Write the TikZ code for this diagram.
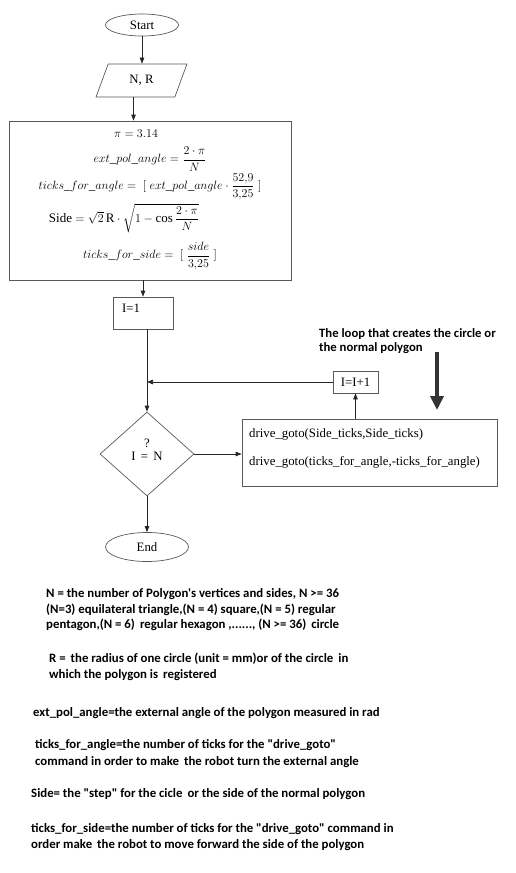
\documentclass[tikz,border=0pt]{standalone}
\usepackage{amsmath}
\usepackage{fontspec}
\setmainfont{Liberation Serif}
\newfontfamily\notefont{Carlito}
\usetikzlibrary{shapes.geometric,arrows.meta,calc}
\begin{document}
\begin{tikzpicture}[x=1pt,y=-1pt,
  box/.style={draw=black!65,line width=0.7pt,inner sep=0pt},
  arr/.style={draw=black!85,line width=0.7pt,-{Triangle[length=6pt,width=4.5pt]}},
  ftxt/.style={font=\fontsize{12.8}{14}\selectfont,inner sep=0pt},
  mtxt/.style={font=\fontsize{13}{14}\selectfont,inner sep=0pt},
  note/.style={font=\notefont\bfseries\fontsize{12.8}{15}\selectfont,inner sep=0pt,anchor=base west},
  lnote/.style={font=\notefont\bfseries\fontsize{12.7}{15}\selectfont,inner sep=0pt,anchor=base west},
  bigarr/.style={draw=black!80,line width=3.5pt,-{Triangle[length=14pt,width=13pt]}}]
\useasboundingbox (0,0) rectangle (515,873);

% flowchart shapes
\node[box,ellipse,minimum width=73pt,minimum height=22pt,ftxt] (start) at (142,25) {Start};
\node[box,trapezium,trapezium left angle=67,trapezium right angle=113,trapezium stretches=true,
      minimum width=91pt,minimum height=33pt,ftxt] (inp) at (141.5,80.5) {N, R};
\node[box,rectangle,minimum width=282pt,minimum height=159pt] (main) at (150,200.5) {};
\node[mtxt] (f1) at (136,134) {$\pi = 3.14$};
\node[mtxt] (f2) at (150,159) {$ext\_pol\_angle = \dfrac{2\cdot \pi}{N}$};
\node[mtxt] (f3) at (150,187) {$ticks\_for\_angle =\;[\;ext\_pol\_angle\cdot\dfrac{52{,}9}{3{,}25}\;]$};
\node[mtxt] (f4) at (124,218) {$\mathrm{Side} = \sqrt{2}\,\mathrm{R}\cdot\sqrt{1-\cos\dfrac{2\cdot\pi}{N}}$};
\node[mtxt] (f5) at (150,256) {$ticks\_for\_side =\;[\;\dfrac{side}{3{,}25}\;]$};

\node[box,rectangle,minimum width=60pt,minimum height=32pt] (i1) at (143,313) {};
\node[ftxt,anchor=base west] (i1t) at (122,312) {I=1};

\node[box,rectangle,minimum width=45pt,minimum height=22pt,ftxt] (inc) at (355.5,382) {I=I+1};

\node[box,diamond,minimum width=94pt,minimum height=84pt] (dia) at (147,454) {};
\node[ftxt,align=center] (diat) at (147,450) {?\\[-1pt]I \,=\, N};

\node[box,rectangle,minimum width=255pt,minimum height=67pt] (drive) at (369.5,452.5) {};
\node[ftxt,anchor=base west] (d1) at (249,437) {drive\_goto(Side\_ticks,Side\_ticks)};
\node[ftxt,anchor=base west] (d2) at (249,465) {drive\_goto(ticks\_for\_angle,-ticks\_for\_angle)};

\node[box,ellipse,minimum width=83pt,minimum height=29pt,ftxt] (end) at (147,547) {End};

% connectors
\draw[arr] (start.south) -- (start.south |- inp.north);
\draw[arr] ([xshift=-8pt]inp.south) -- ([xshift=-8pt]inp.south |- main.north);
\draw[arr] (i1.north |- main.south) -- (i1.north);
\draw[arr] (i1.south -| dia.north) -- (dia.north);
\coordinate (j) at (dia.north |- inc.west);
\draw[arr] (inc.west) -- (j);
\draw[arr] (dia.east) -- (dia.east -| drive.west);
\draw[arr] (inc.south |- drive.north) -- (inc.south);
\draw[arr] (dia.south) -- (end.north);

% loop annotation
\node[lnote] (lp1) at (319,337) {The loop that creates the circle or};
\node[lnote] (lp2) at (319,351.5) {the normal polygon};
\coordinate (ba) at (437,352);
\coordinate (bb) at (437,410);
\draw[bigarr] (ba) -- (bb);

% notes
\node[note] (n1) at (46,597) {N = the number of Polygon's vertices and sides, N >= 36};
\node[note] (n2) at (46,613) {(N=3) equilateral triangle,(N = 4) square,(N = 5) regular};
\node[note] (n3) at (46,628) {pentagon,(N = 6)\, regular hexagon ,......, (N >= 36)\, circle};
\node[note] (n4) at (49,662) {R =\, the radius of one circle (unit = mm)or of the circle\, in};
\node[note] (n5) at (49,678) {which the polygon is\, registered};
\node[note] (n6) at (33,716) {ext\_pol\_angle=the external angle of the polygon measured in rad};
\node[note] (n7) at (35,748) {ticks\_for\_angle=the number of ticks for the "drive\_goto"};
\node[note] (n8) at (35,765) {command in order to make\, the robot turn the external angle};
\node[note] (n9) at (31,797) {Side= the "step" for the cicle\, or the side of the normal polygon};
\node[note] (n10) at (31,832) {ticks\_for\_side=the number of ticks for the "drive\_goto" command in};
\node[note] (n11) at (31,848) {order make\, the robot to move forward the side of the polygon};
\end{tikzpicture}
\end{document}
